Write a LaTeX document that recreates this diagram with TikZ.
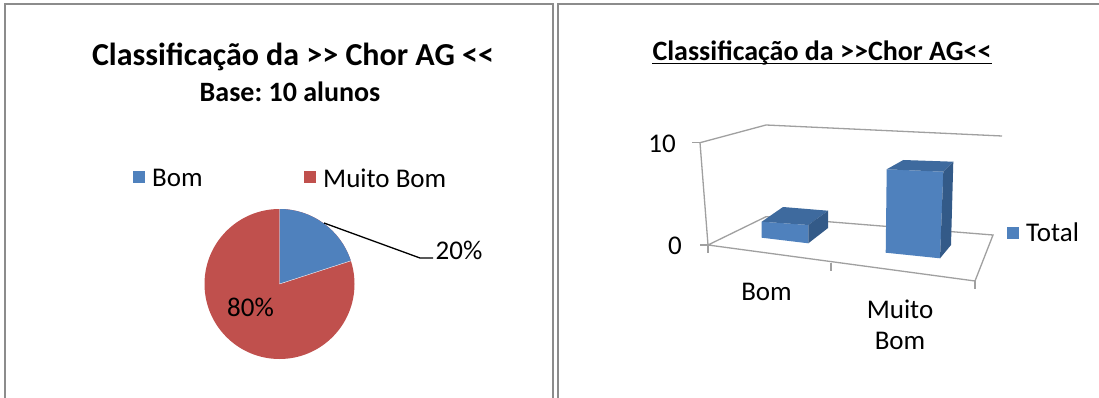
\documentclass[tikz,border=0pt]{standalone}
\usepackage{fontspec}
\setmainfont{Carlito}
\frenchspacing
\definecolor{framegray}{HTML}{8C8C8C}
\definecolor{axisgray}{HTML}{A0A0A0}
\definecolor{pblue}{HTML}{4F81BD}
\definecolor{pred}{HTML}{C0504D}
\definecolor{btop}{HTML}{3E6A9E}
\definecolor{bside}{HTML}{335A88}
\newcommand{\gtgt}{>\kern0pt>}
\newcommand{\ltlt}{<\kern0pt<}
\begin{document}
\begin{tikzpicture}[x=1pt,y=-1pt,
  frame/.style={draw=framegray, line width=2pt},
  axisline/.style={draw=axisgray, line width=1.3pt},
  txt/.style={inner sep=0pt, font=\fontsize{27}{32}\selectfont},
  ttl/.style={inner sep=0pt, font=\fontsize{32}{38}\selectfont\bfseries},
  sub/.style={inner sep=0pt, font=\fontsize{28}{33}\selectfont\bfseries},
  ttlr/.style={inner sep=0pt, font=\fontsize{28}{33}\selectfont\bfseries},
  key/.style={inner sep=0pt, minimum size=12pt, draw=none},
  leader/.style={draw=black, line width=1.3pt}]
\useasboundingbox (0,0) rectangle (1099,398);
\fill[white] (0,0) rectangle (1099,398);
% frames
\draw[frame] (5,420) -- (5,4) -- (553,4) -- (553,420);
\draw[frame] (558,420) -- (558,4) -- (1110,4);

% ---------- left panel ----------
\node[ttl] (t1) at (293,57) {Classificação da \gtgt{} Chor AG \ltlt};
\node[sub] (t2) at (290,92) {Base: 10 alunos};
\node[key, fill=pblue] (k1) at (139,177) {};
\node[txt, anchor=west] (k1t) at (152,178) {Bom};
\node[key, fill=pred] (k2) at (310,177) {};
\node[txt, anchor=west] (k2t) at (323,178) {Muito Bom};

\coordinate (pc) at (279.5,284);
\fill[pred] (pc) circle[radius=75pt];
\fill[pblue] (pc) -- ++(90:75pt) arc[start angle=90, end angle=18, radius=75pt] -- cycle;
\draw[white, line width=0.4pt] (pc) -- ++(90:75pt) (pc) -- ++(18:75pt);
\node[txt] (p80) at (250.5,307) {80\%};
\node[txt] (p20) at (459,250) {20\%};
\coordinate (ls) at (324,223);
\coordinate (lk) at (420,258);
\coordinate (le) at (433,258);
\draw[leader] (ls) -- (lk) -- (le);

% ---------- right panel ----------
\node[ttlr] (t3) at (822,53) {Classificação da \gtgt Chor AG\ltlt};
\draw[black, line width=1.2pt] (t3.south west) ++(0,-2) coordinate (u1) -- (u1 -| t3.south east);

% axes / walls
\coordinate (wt) at (700,142.7);
\coordinate (wb) at (708,245);
\coordinate (bt) at (766,125);
\coordinate (rt) at (1002,136);
\coordinate (bl) at (766,216.7);
\coordinate (br) at (993,235);
\coordinate (fr) at (975,281);
\draw[axisline] (wb) -- (wt) -- (bt) -- (rt);
\draw[axisline] (wb) -- (bl) -- (br) -- (fr) -- (wb);
\draw[axisline] (wt) -- ++(-8,0);
\draw[axisline] (wb) -- ++(-8,0);
\draw[axisline] (wb) -- ++(0,8);
\coordinate (tm) at (831,262.5);
\draw[axisline] (tm) -- ++(0,8);
\draw[axisline] (fr) -- ++(0,8);

% bar 1
\fill[pblue] (761.7,221.7) -- (808.3,225) -- (808.3,243.3) -- (761.7,237.7) -- cycle;
\fill[btop] (761.7,221.7) -- (783,207) -- (828,210.7) -- (808.3,225) -- cycle;
\fill[bside] (808.3,225) -- (828,210.7) -- (828,228) -- (808.3,243.3) -- cycle;
% bar 2
\fill[pblue] (886.7,169.3) -- (943.3,171.7) -- (940,258.3) -- (885.7,252.7) -- cycle;
\fill[btop] (886.7,169.3) -- (903.3,160) -- (953.3,161.7) -- (943.3,171.7) -- cycle;
\fill[bside] (943.3,171.7) -- (953.3,161.7) -- (951,245) -- (940,258.3) -- cycle;

\node[txt] (y10) at (662,144) {10};
\node[txt] (y0) at (675,245.5) {0};
\node[txt] (cb) at (766.5,292) {Bom};
\node[txt, align=center, font=\fontsize{27}{31}\selectfont] (cm) at (900,325) {Muito\\Bom};
\node[key, fill=pblue] (k3) at (1012.5,232.5) {};
\node[txt, anchor=west] (k3t) at (1026,232.5) {Total};
\end{tikzpicture}
\end{document}
